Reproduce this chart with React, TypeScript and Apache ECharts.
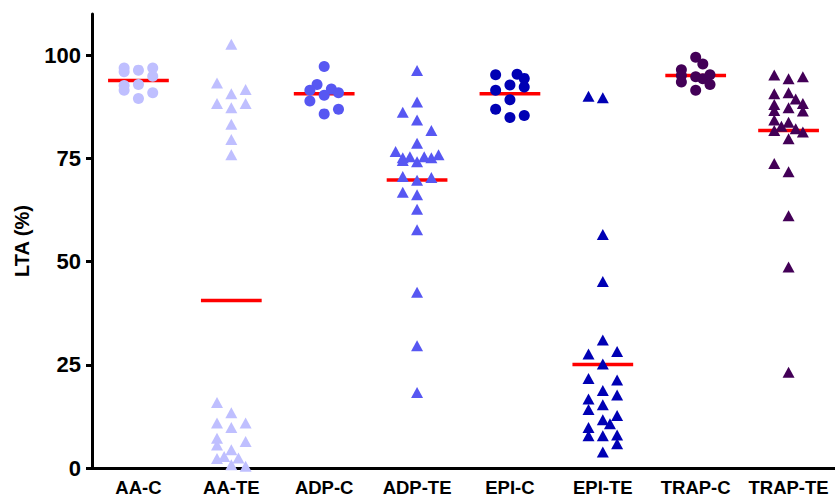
import React, { useEffect, useRef } from "react";
import * as echarts from "echarts";

const categories = ["AA-C", "AA-TE", "ADP-C", "ADP-TE", "EPI-C", "EPI-TE", "TRAP-C", "TRAP-TE"];
const yTicks = [0, 25, 50, 75, 100];

// each point: [jitter column (half-steps), LTA %]
const aaC = [[-2, 96.9], [-2, 96.0], [-2, 92.7], [-2, 91.5], [0, 96.4], [0, 92.9], [0, 89.5], [2, 96.9], [2, 94.9], [2, 90.9]];
const aaTE = [[0, 102.7], [-2, 93.3], [0, 90.7], [2, 91.7], [-2, 88.3], [2, 88.3], [0, 87.3], [0, 83.3], [0, 79.6], [0, 75.9],
  [-2, 15.9], [0, 13.4], [-2, 10.9], [0, 9.8], [2, 10.9], [-2, 7.2], [-2, 5.6], [2, 6.4], [0, 4.4], [-1, 2.8], [-2, 2.3], [1, 2.4], [0, 0.8], [2, 0.4]];
const adpC = [[0, 97.3], [-1, 92.9], [-2, 91.5], [1, 91.8], [2, 90.9], [0, 90.3], [-2, 88.9], [0, 85.8], [2, 86.9]];
const adpTE = [[0, 96.3], [0, 88.7], [-2, 86.2], [0, 84.3], [2, 81.8], [0, 78.7], [-3, 76.7], [-2, 75.2], [-1, 75.4], [0, 74.2], [1, 75.4], [2, 75.2], [3, 75.9], [-2, 74.5],
  [-2, 70.6], [2, 70.4], [0, 69.7], [-2, 66.8], [0, 66.2], [0, 62.7], [0, 57.7], [0, 42.6], [0, 29.6], [0, 18.3]];
const epiC = [[-2, 95.3], [1, 95.4], [2, 94.4], [0, 92.8], [2, 92.3], [-2, 91.5], [0, 89.2], [-2, 86.9], [0, 84.9], [2, 85.4]];
const epiTE = [[-2, 90.1], [0, 89.7], [0, 56.6], [0, 45.2], [0, 31.0], [-2, 27.6], [2, 28.2], [0, 25.2], [-2, 21.7], [2, 21.3], [0, 18.8], [2, 17.7],
  [-2, 16.7], [-2, 14.2], [0, 15.3], [2, 12.7], [0, 11.7], [1, 10.7], [-2, 9.8], [-2, 7.8], [0, 7.8], [2, 8.0], [2, 5.9], [0, 3.9]];
const trapC = [[0, 99.5], [1, 97.9], [-2, 96.5], [-2, 95.1], [0, 94.8], [1, 94.3], [2, 95.3], [-2, 93.5], [2, 92.9], [0, 91.5]];
const trapTE = [[-2, 95.2], [0, 94.3], [2, 94.8], [-2, 90.7], [0, 90.9], [1, 89.4], [-2, 88.1], [2, 88.3], [0, 87.3], [-2, 86.6], [2, 86.5], [-2, 84.3],
  [0, 83.8], [-1, 82.8], [1, 82.2], [-2, 81.8], [2, 81.4], [0, 79.8], [-2, 73.8], [0, 71.8], [0, 61.1], [0, 48.7], [0, 23.2]];

const groups = [aaC, aaTE, adpC, adpTE, epiC, epiTE, trapC, trapTE];
const means = [93.9, 40.6, 90.7, 69.8, 90.7, 25.1, 95.1, 81.8];

const colors = ["#bfbfff", "#bfbfff", "#5757f2", "#5757f2", "#0000b4", "#0000b4", "#430057", "#430057"];
const symbols = ["circle", "triangle", "circle", "triangle", "circle", "triangle", "circle", "triangle"];

const JITTER = 0.077;
const HALF_LINE = 0.327;

export default function App() {
  const ref = useRef<HTMLDivElement>(null);
  useEffect(() => {
    if (!ref.current) return;
    const chart = echarts.init(ref.current, undefined, { renderer: "svg" });
    const font = "Liberation Sans, Arial, Helvetica, sans-serif";
    const series: any[] = [];
    means.forEach((m, i) => {
      series.push({
        type: "line",
        xAxisIndex: 1,
        data: [[i - HALF_LINE, m], [i + HALF_LINE, m]],
        symbol: "none",
        lineStyle: { color: "#ff0000", width: 3.5 },
        silent: true,
        z: 2,
      });
    });
    groups.forEach((g, i) => {
      series.push({
        type: "scatter",
        xAxisIndex: 1,
        data: g.map(([c, v]) => [i + c * JITTER, v]),
        symbol: symbols[i],
        symbolSize: symbols[i] === "circle" ? 11 : [12, 11],
        itemStyle: { color: colors[i], opacity: 1 },
        z: 3,
      });
    });
    chart.setOption({
      animation: false,
      backgroundColor: "#ffffff",
      grid: { left: 92, right: -4, top: 14, bottom: 27, containLabel: false },
      xAxis: [
        {
          type: "category",
          data: categories,
          boundaryGap: true,
          axisLine: { onZero: false, lineStyle: { color: "#000", width: 3 } },
          axisTick: { alignWithLabel: true, interval: 0, length: 7, lineStyle: { color: "#000", width: 3 } },
          axisLabel: { interval: 0, color: "#000", fontSize: 18.5, fontWeight: "bold", fontFamily: font, margin: 10 },
          splitLine: { show: false },
        },
        { type: "value", min: -0.5, max: 7.5, show: false },
      ],
      yAxis: {
        type: "value",
        min: 0,
        max: 110,
        name: "LTA (%)",
        nameLocation: "middle",
        nameGap: 60,
        nameTextStyle: { color: "#000", fontSize: 20, fontWeight: "bold", fontFamily: font },
        axisLine: { show: true, onZero: false, lineStyle: { color: "#000", width: 3 } },
        axisTick: { show: true, length: 6, customValues: yTicks, lineStyle: { color: "#000", width: 3 } },
        axisLabel: { color: "#000", fontSize: 22, fontWeight: "bold", fontFamily: font, margin: 11, customValues: yTicks },
        splitLine: { show: false },
      },
      series,
    });
    return () => chart.dispose();
  }, []);
  return <div ref={ref} style={{ width: 835, height: 497, position: "absolute", left: 0, top: 0 }} />;
}
